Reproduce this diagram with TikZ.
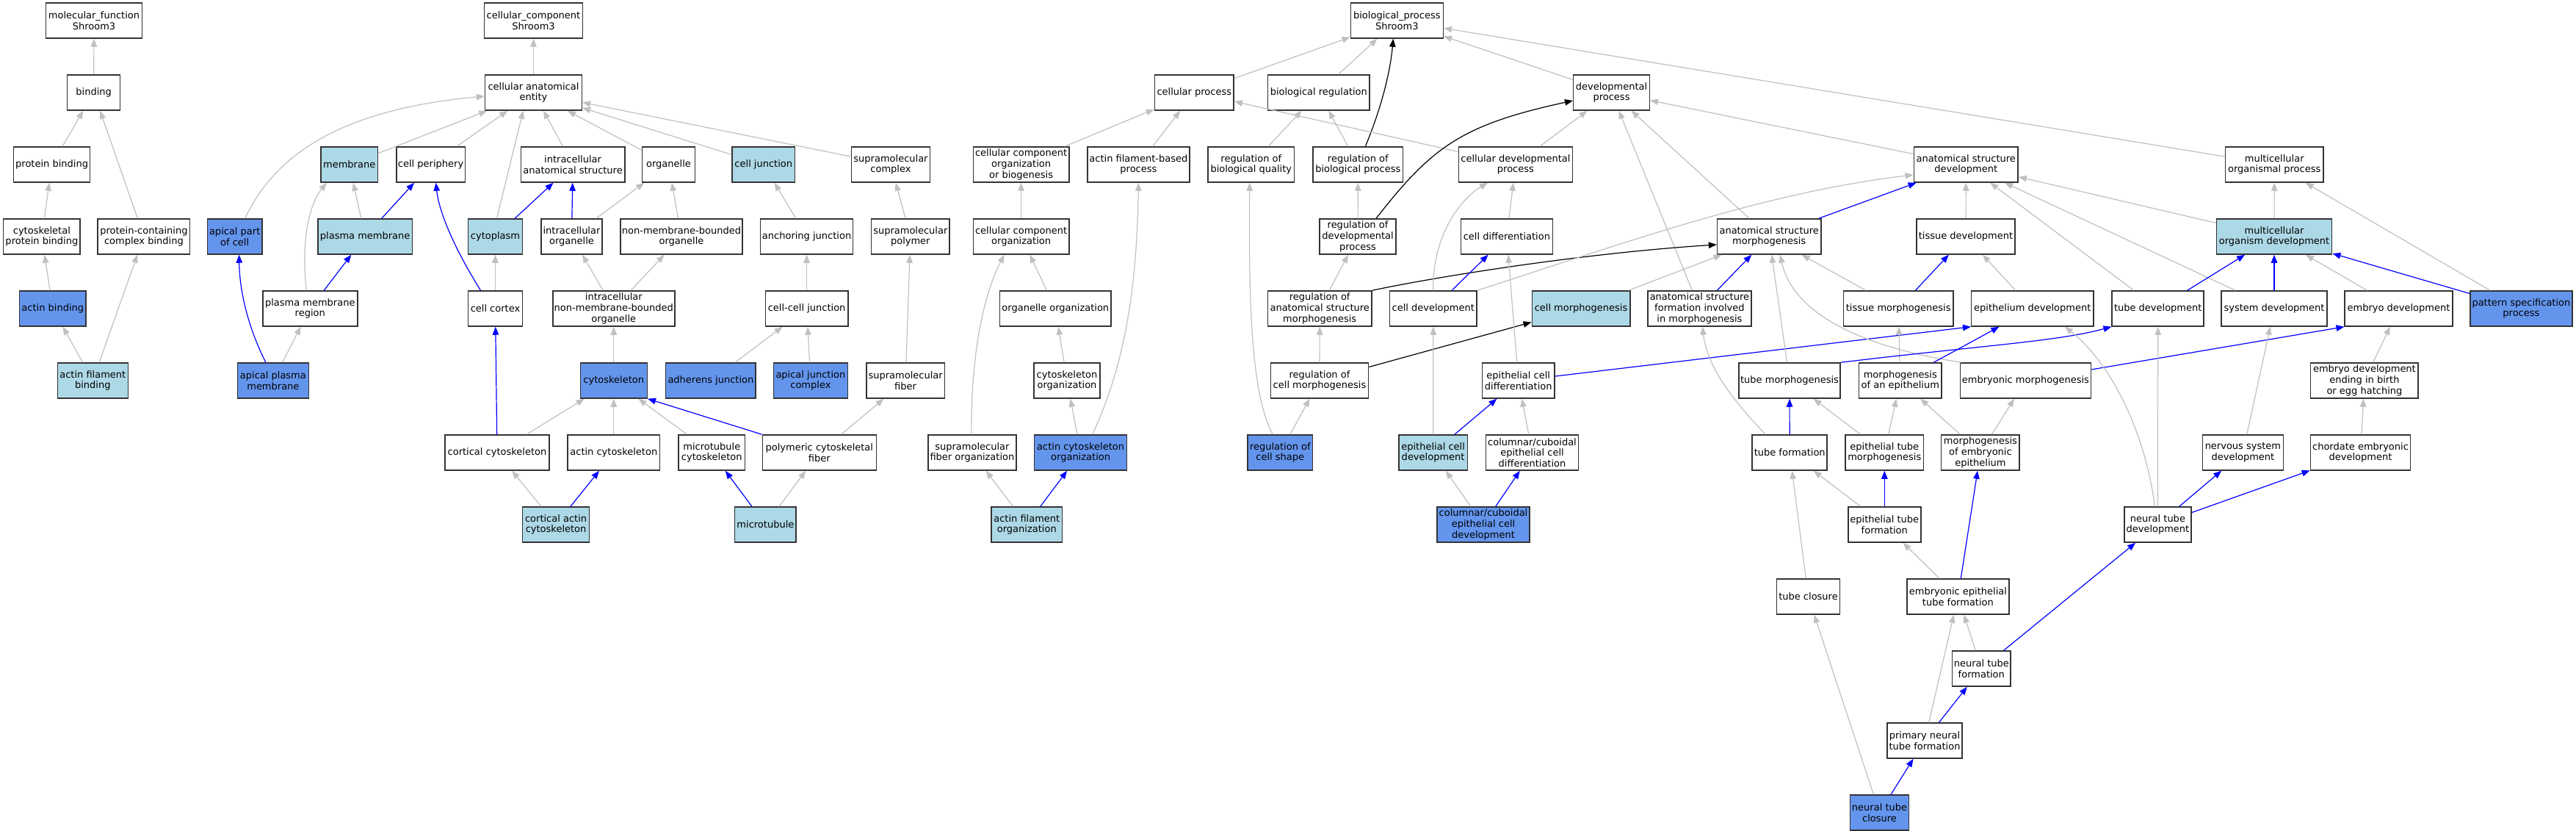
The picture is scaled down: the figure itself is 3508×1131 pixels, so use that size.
\documentclass[tikz,border=0pt]{standalone}
\usepackage{fontspec}
\setmainfont{DejaVu Sans}
\usetikzlibrary{arrows.meta}
\definecolor{lb}{HTML}{ADD8E6}
\definecolor{cb}{HTML}{6495ED}
\definecolor{eg}{HTML}{C0C0C0}
\tikzset{
 bx/.style={draw=black!80, line width=1.5pt, fill=white, align=center, inner xsep=1pt, inner ysep=1pt, minimum height=48pt, font=\fontsize{13}{14.7}\selectfont},
 lbx/.style={bx, fill=lb},
 cbx/.style={bx, fill=cb},
 ge/.style={draw=eg, line width=1.2pt, -{Triangle[length=11pt,width=8.5pt]}},
 be/.style={draw=blue, line width=1.2pt, -{Triangle[length=11pt,width=8.5pt]}},
 ke/.style={draw=black, line width=1.2pt, -{Triangle[length=11pt,width=8.5pt]}},
}
\begin{document}
\begin{tikzpicture}[x=1pt,y=-1pt]
\useasboundingbox (0,0) rectangle (3508,1131);
\fill[white] (0,0) rectangle (3508,1131);
% ---------- molecular function ----------
\node[bx,minimum width=131pt] (mf) at (128,28) {molecular\_function\\Shroom3};
\node[bx,minimum width=72pt] (binding) at (127.7,126) {binding};
\node[bx,minimum width=104pt] (pb) at (70.6,224) {protein binding};
\node[bx,minimum width=104.4pt] (cpb) at (56.9,322) {cytoskeletal\\protein binding};
\node[bx,minimum width=125.4pt] (pccb) at (195.9,322) {protein-containing\\complex binding};
\node[cbx,minimum width=90.5pt] (ab) at (71.8,420) {actin binding};
\node[lbx,minimum width=96pt] (afb) at (126.3,518) {actin filament\\binding};
% ---------- cellular component ----------
\node[bx,minimum width=134pt] (cc) at (726.5,28) {cellular\_component\\Shroom3};
\node[bx,minimum width=131.6pt] (cae) at (726.5,126) {cellular anatomical\\entity};
\node[lbx,minimum width=77.5pt] (membrane) at (475.7,224) {membrane};
\node[bx,minimum width=93.7pt] (cper) at (586.6,224) {cell periphery};
\node[bx,minimum width=141.6pt] (ias) at (780.1,224) {intracellular\\anatomical structure};
\node[bx,minimum width=72pt] (org) at (910.5,224) {organelle};
\node[lbx,minimum width=85.4pt] (cj) at (1039.8,224) {cell junction};
\node[bx,minimum width=107pt] (smc) at (1213,224) {supramolecular\\complex};
\node[cbx,minimum width=74.7pt] (apc) at (319.7,322) {apical part\\of cell};
\node[lbx,minimum width=128.5pt] (pm) at (497.2,322) {plasma membrane};
\node[lbx,minimum width=74.4pt] (cyto) at (674.5,322) {cytoplasm};
\node[bx,minimum width=83pt] (io) at (778.5,322) {intracellular\\organelle};
\node[bx,minimum width=166pt] (nmbo) at (928,322) {non-membrane-bounded\\organelle};
\node[bx,minimum width=126pt] (aj) at (1098.6,322) {anchoring junction};
\node[bx,minimum width=106.5pt] (smp) at (1239.8,322) {supramolecular\\polymer};
\node[bx,minimum width=128.9pt] (pmr) at (422.3,420) {plasma membrane\\region};
\node[bx,minimum width=74.4pt] (cortex) at (674.5,420) {cell cortex};
\node[bx,minimum width=166pt] (inmbo) at (835.8,420) {intracellular\\non-membrane-bounded\\organelle};
\node[bx,minimum width=112.7pt] (ccj) at (1098.6,420) {cell-cell junction};
\node[cbx,minimum width=96.9pt] (apm) at (371.9,518) {apical plasma\\membrane};
\node[cbx,minimum width=91pt] (csk) at (835.8,518) {cytoskeleton};
\node[cbx,minimum width=122.6pt] (adj) at (967.9,518) {adherens junction};
\node[cbx,minimum width=101.2pt] (ajc) at (1103.9,518) {apical junction\\complex};
\node[bx,minimum width=106.6pt] (smf) at (1233.1,518) {supramolecular\\fiber};
\node[bx,minimum width=142pt] (ccsk) at (677,616) {cortical cytoskeleton};
\node[bx,minimum width=125.7pt] (acsk) at (835.8,616) {actin cytoskeleton};
\node[bx,minimum width=90.5pt] (mtcsk) at (969.3,616) {microtubule\\cytoskeleton};
\node[bx,minimum width=155pt] (pcf) at (1115.8,616) {polymeric cytoskeletal\\fiber};
\node[lbx,minimum width=91pt] (cacsk) at (757.1,714) {cortical actin\\cytoskeleton};
\node[lbx,minimum width=83.4pt] (mt) at (1042.4,714) {microtubule};
% ---------- biological process ----------
\node[bx,minimum width=126pt] (bp) at (1902.3,28) {biological\_process\\Shroom3};
\node[bx,minimum width=107.8pt] (cp) at (1626.3,126) {cellular process};
\node[bx,minimum width=138.5pt] (breg) at (1795.8,126) {biological regulation};
\node[bx,minimum width=103.6pt] (dp) at (2194.5,126) {developmental\\process};
\node[bx,minimum width=130.6pt] (ccob) at (1390.6,224) {cellular component\\organization\\or biogenesis};
\node[bx,minimum width=139.3pt] (afbp) at (1550.4,224) {actin filament-based\\process};
\node[bx,minimum width=117.7pt] (rbq) at (1703.8,224) {regulation of\\biological quality};
\node[bx,minimum width=122.7pt] (rbp) at (1849.3,224) {regulation of\\biological process};
\node[bx,minimum width=155pt] (cdp) at (2063.9,224) {cellular developmental\\process};
\node[bx,minimum width=141.8pt] (asd) at (2677.2,224) {anatomical structure\\development};
\node[bx,minimum width=133.8pt] (mop) at (3097.2,224) {multicellular\\organismal process};
\node[bx,minimum width=130.6pt] (cco) at (1390.6,322) {cellular component\\organization};
\node[bx,minimum width=104pt] (rdp) at (1849,322) {regulation of\\developmental\\process};
\node[bx,minimum width=125.2pt] (cdiff) at (2051.9,322) {cell differentiation};
\node[bx,minimum width=141.3pt] (asm) at (2409.2,322) {anatomical structure\\morphogenesis};
\node[bx,minimum width=133.9pt] (td) at (2677,322) {tissue development};
\node[lbx,minimum width=157.4pt] (mod) at (3097,322) {multicellular\\organism development};
\node[bx,minimum width=151.7pt] (oo) at (1437.3,420) {organelle organization};
\node[bx,minimum width=141.4pt] (rasm) at (1797.2,420) {regulation of\\anatomical structure\\morphogenesis};
\node[bx,minimum width=118.2pt] (cdev) at (1951.8,420) {cell development};
\node[lbx,minimum width=133.5pt] (cm) at (2153,420) {cell morphogenesis};
\node[bx,minimum width=141.2pt] (asfim) at (2314.4,420) {anatomical structure\\formation involved\\in morphogenesis};
\node[bx,minimum width=149.2pt] (tm) at (2585.2,420) {tissue morphogenesis};
\node[bx,minimum width=166.2pt] (ed) at (2767.8,420) {epithelium development};
\node[bx,minimum width=125pt] (tdev) at (2938.7,420) {tube development};
\node[bx,minimum width=144.2pt] (sd) at (3097,420) {system development};
\node[bx,minimum width=146.6pt] (emd) at (3266.5,420) {embryo development};
\node[cbx,minimum width=139.2pt] (psp) at (3433.4,420) {pattern specification\\process};
\node[bx,minimum width=90.4pt] (cso) at (1453,518) {cytoskeleton\\organization};
\node[bx,minimum width=133.4pt] (rcm) at (1797,518) {regulation of\\cell morphogenesis};
\node[bx,minimum width=98.7pt] (ecd) at (2067.7,518) {epithelial cell\\differentiation};
\node[bx,minimum width=138pt] (tmor) at (2437,518) {tube morphogenesis};
\node[bx,minimum width=112.3pt] (moe) at (2587.8,518) {morphogenesis\\of an epithelium};
\node[bx,minimum width=178.2pt] (emm) at (2758.4,518) {embryonic morphogenesis};
\node[bx,minimum width=146.6pt] (edeb) at (3219.9,518) {embryo development\\ending in birth\\or egg hatching};
\node[bx,minimum width=119.8pt] (sfo) at (1323.9,616) {supramolecular\\fiber organization};
\node[cbx,minimum width=126pt] (aco) at (1471.6,616) {actin cytoskeleton\\organization};
\node[cbx,minimum width=88.3pt] (rcs) at (1743.3,616) {regulation of\\cell shape};
\node[lbx,minimum width=93.7pt] (ecdev) at (1951.6,616) {epithelial cell\\development};
\node[bx,minimum width=126.4pt] (ccecd) at (2086.5,616) {columnar/cuboidal\\epithelial cell\\differentiation};
\node[bx,minimum width=102pt] (tf) at (2437.2,616) {tube formation};
\node[bx,minimum width=106.6pt] (etm) at (2566.3,616) {epithelial tube\\morphogenesis};
\node[bx,minimum width=106.6pt] (mee) at (2696.9,616) {morphogenesis\\of embryonic\\epithelium};
\node[bx,minimum width=109.8pt] (nsd) at (3054.4,616) {nervous system\\development};
\node[bx,minimum width=136.2pt] (ced) at (3214.5,616) {chordate embryonic\\development};
\node[lbx,minimum width=96.2pt] (afo) at (1398.3,714) {actin filament\\organization};
\node[cbx,minimum width=126pt] (ccecdev) at (2020,714) {columnar/cuboidal\\epithelial cell\\development};
\node[bx,minimum width=99pt] (etf) at (2566.3,714) {epithelial tube\\formation};
\node[bx,minimum width=91pt] (ntd) at (2938.4,714) {neural tube\\development};
\node[bx,minimum width=86.2pt] (tc) at (2462.5,812) {tube closure};
\node[bx,minimum width=139.3pt] (eetf) at (2666.4,812) {embryonic epithelial\\tube formation};
\node[bx,minimum width=79.6pt] (ntf) at (2698.3,910) {neural tube\\formation};
\node[bx,minimum width=102.4pt] (pntf) at (2621,1008) {primary neural\\tube formation};
\node[cbx,minimum width=79.6pt] (ntc) at (2559.5,1106) {neural tube\\closure};
% ---------- edges: molecular function ----------
\draw[ge] (binding) -- (mf);
\draw[ge] (pb) -- (binding);
\draw[ge] (pccb) -- (binding);
\draw[ge] (cpb) -- (pb);
\draw[ge] (ab) -- (cpb);
\draw[ge] (afb) -- (ab);
\draw[ge] (afb) -- (pccb);
% ---------- edges: cellular component ----------
\draw[ge] (cae) -- (cc);
\draw[ge] ([xshift=14pt]apc.north) .. controls (370,220) and (450,150) .. ([yshift=-5pt]cae.west);
\draw[ge] (membrane) -- (cae);
\draw[ge] (cper) -- (cae);
\draw[ge] ([xshift=2pt]cyto.north) -- ([xshift=-14pt]cae.south);
\draw[ge] (ias) -- (cae);
\draw[ge] (org) -- (cae);
\draw[ge] (cj) -- (cae);
\draw[ge] (smc) -- (cae);
\draw[ge] (pm) -- (membrane);
\draw[be] (pm) -- (cper);
\draw[ge] ([xshift=-5pt]pmr.north) .. controls (410,330) and (420,280) .. ([xshift=-31pt]membrane.south);
\draw[be] (pmr) -- (pm);
\draw[be] ([xshift=-10pt]apm.north) .. controls (335,440) and (326,390) .. ([xshift=6pt]apc.south);
\draw[ge] (apm) -- (pmr);
\draw[be] ([xshift=-20pt]cortex.north) .. controls (620,340) and (598,290) .. ([xshift=7pt]cper.south);
\draw[ge] (cortex) -- (cyto);
\draw[be] (cyto) -- (ias);
\draw[be] (io) -- (ias);
\draw[ge] (io) -- (org);
\draw[ge] (nmbo) -- (org);
\draw[ge] (inmbo) -- (io);
\draw[ge] (inmbo) -- (nmbo);
\draw[ge] (aj) -- (cj);
\draw[ge] (smp) -- (smc);
\draw[ge] (ccj) -- (aj);
\draw[ge] (csk) -- (inmbo);
\draw[ge] (adj) -- (ccj);
\draw[ge] (ajc) -- (ccj);
\draw[ge] (smf) -- (smp);
\draw[be] (ccsk) -- (cortex);
\draw[ge] (ccsk) -- (csk);
\draw[ge] (acsk) -- (csk);
\draw[ge] (mtcsk) -- (csk);
\draw[be] (pcf.north west) -- (csk.south east);
\draw[ge] (pcf) -- (smf);
\draw[ge] (cacsk) -- (ccsk);
\draw[be] (cacsk) -- (acsk);
\draw[be] (mt) -- (mtcsk);
\draw[ge] (mt) -- (pcf);
% ---------- edges: biological process ----------
\draw[ge] (cp) -- (bp);
\draw[ge] (breg) -- (bp);
\draw[ke] ([xshift=10pt]rbp.north) .. controls (1880,150) and (1893,100) .. ([xshift=-5pt]bp.south);
\draw[ge] (dp) -- (bp);
\draw[ge] (mop) -- (bp);
\draw[ge] (ccob) -- (cp);
\draw[ge] (afbp) -- (cp);
\draw[ge] (rbq) -- (breg);
\draw[ge] (rbp) -- (breg);
\draw[ge] (cdp) -- (cp);
\draw[ge] (cdp) -- (dp);
\draw[ke] ([xshift=25pt]rdp.north) .. controls (1950,200) and (1990,170) .. ([yshift=-11pt]dp.west);
\draw[ge] (rdp) -- (rbp);
\draw[ge] (asd) -- (dp);
\draw[ge] (asfim) -- (dp);
\draw[ge] (asm) -- (dp);
\draw[ge] (mod) -- (asd);
\draw[ge] (mod) -- (mop);
\draw[ge] (cco) -- (ccob);
\draw[ge] (oo) -- (cco);
\draw[ge] ([xshift=-1pt]sfo.north) .. controls (1322,480) and (1340,400) .. ([xshift=-23pt]cco.south);
\draw[ge] (cso) -- (oo);
\draw[ge] (aco) -- (cso);
\draw[ge] ([xshift=16pt]aco.north) .. controls (1530,500) and (1548,400) .. (afbp.south);
\draw[ge] (afo) -- (sfo);
\draw[be] (afo) -- (aco);
\draw[ge] ([xshift=-10pt]rcs.north) .. controls (1705,540) and (1700,420) .. ([xshift=-2pt]rbq.south);
\draw[ge] (rcs) -- (rcm);
\draw[ge] (rcm) -- (rasm);
\draw[ge] (rasm) -- (rdp);
\draw[ke] (rasm.north east) .. controls (1950,378) and (2150,345) .. ([yshift=-11pt]asm.west);
\draw[ke] (rcm) -- (cm);
\draw[ge] (cdiff) -- (cdp);
\draw[ge] (cdev.north) .. controls (1950,320) and (1990,270) .. ([xshift=-38pt]cdp.south);
\draw[be] (cdev) -- (cdiff);
\draw[ge] (cdev.north east) .. controls (2200,335) and (2400,262) .. ([yshift=-14pt]asd.west);
\draw[ge] (ecd) -- (cdiff);
\draw[ge] (ecdev) -- (cdev);
\draw[be] (ecdev) -- (ecd);
\draw[ge] (ccecd) -- (ecd);
\draw[ge] (ccecdev) -- (ecdev);
\draw[be] (ccecdev) -- (ccecd);
\draw[be] (ecd) -- (ed.south west);
\draw[ge] (cm) -- (asm);
\draw[be] (asfim) -- (asm);
\draw[be] (asm) -- (asd);
\draw[ge] (tm) -- (asm);
\draw[ge] (tmor) -- (asm);
\draw[ge] ([xshift=2pt]emm.north west) .. controls (2520,470) and (2440,420) .. ([xshift=15pt]asm.south);
\draw[ge] (td) -- (asd);
\draw[ge] (tdev) -- (asd);
\draw[ge] (sd) -- (asd);
\draw[be] (tm) -- (td);
\draw[ge] (ed) -- (td);
\draw[ge] (moe) -- (tm);
\draw[be] (moe) -- (ed);
\draw[be] (tmor.north east) .. controls (2700,470) and (2800,465) .. (tdev.south west);
\draw[be] (emm) -- (emd.south west);
\draw[be] (tdev) -- (mod);
\draw[be] (sd) -- (mod);
\draw[ge] (emd) -- (mod);
\draw[be] (psp) -- (mod);
\draw[ge] (psp) -- (mop);
\draw[ge] (edeb) -- (emd);
\draw[be] (tf) -- (tmor);
\draw[ge] ([xshift=-33pt]tf.north) .. controls (2360,545) and (2325,500) .. ([xshift=4pt]asfim.south);
\draw[ge] (etm) -- (tmor);
\draw[ge] (etm) -- (moe);
\draw[ge] (mee) -- (moe);
\draw[ge] (mee) -- (emm);
\draw[ge] (nsd) -- (sd);
\draw[ge] (ced) -- (edeb);
\draw[ge] (etf) -- (tf);
\draw[be] (etf) -- (etm);
\draw[ge] (ntd) -- (tdev);
\draw[ge] ([xshift=-4pt]ntd.north) .. controls (2920,580) and (2870,490) .. ([xshift=44pt]ed.south);
\draw[be] (ntd) -- (nsd);
\draw[be] (ntd) -- (ced);
\draw[ge] (tc) -- (tf);
\draw[ge] (eetf) -- (etf);
\draw[be] (eetf) -- (mee);
\draw[ge] (ntf) -- (eetf);
\draw[be] (ntf) -- (ntd);
\draw[ge] (pntf) -- (eetf);
\draw[be] (pntf) -- (ntf);
\draw[be] (ntc) -- (pntf);
\draw[ge] (ntc) -- (tc);
\end{tikzpicture}
\end{document}
